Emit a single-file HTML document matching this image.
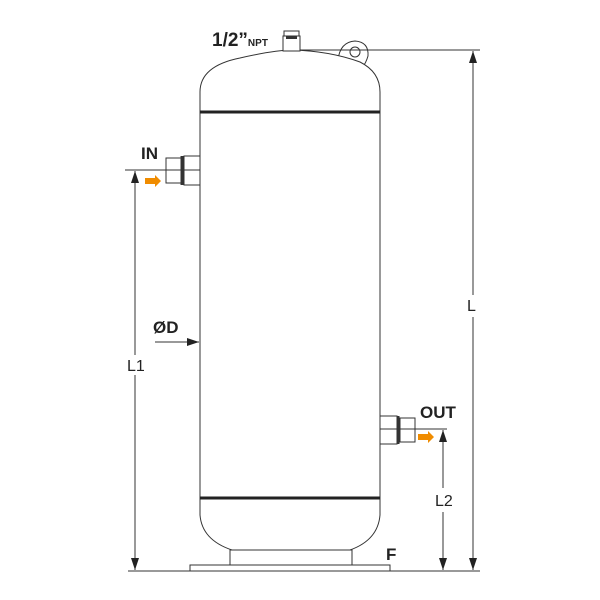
<!DOCTYPE html>
<html><head><style>body{margin:0;background:#fff}svg{display:block}</style></head><body>
<svg width="600" height="600" viewBox="0 0 600 600" xmlns="http://www.w3.org/2000/svg" font-family="Liberation Sans, sans-serif">
<defs><marker id="a" markerWidth="12" markerHeight="8" refX="12" refY="4" orient="auto-start-reverse" markerUnits="userSpaceOnUse"><path d="M0,0 L12,4 L0,8 Z" fill="#222"/></marker></defs>
<g stroke="#333" stroke-width="1" fill="none">
<!-- lug -->
<path d="M338,60 Q340,42 355,41 Q369,42 368,56 Q366,63 362,68" fill="#fff"/>
<circle cx="355" cy="52" r="5"/>
<!-- body -->
<path d="M200,515 L200,92 Q200,66 240,58 Q275,50 292,50 Q330,51 360,62 Q380,72 380,92 L380,515 Q378,540 350,550 L232,550 Q202,540 200,515 Z" fill="#fff"/>
<!-- nozzle -->
<rect x="283" y="36" width="17" height="15" fill="#fff"/>
<rect x="284" y="31" width="15" height="5" fill="#fff"/>
<rect x="286" y="36" width="11" height="3" fill="#333" stroke="none"/>
<!-- bands -->
<line x1="200" y1="112" x2="380" y2="112" stroke="#222" stroke-width="3"/>
<line x1="200" y1="498" x2="380" y2="498" stroke="#222" stroke-width="3"/>
<!-- skirt & base -->
<rect x="230" y="550" width="122" height="16" fill="#fff"/>
<rect x="190" y="565" width="200" height="6" fill="#fff"/>
<line x1="128" y1="571" x2="480" y2="571"/>
<!-- IN fitting -->
<rect x="166" y="158" width="16" height="25" fill="#fff"/>
<rect x="184" y="156" width="16" height="29" fill="#fff"/>
<line x1="182" y1="156" x2="182" y2="185" stroke-width="3"/>
<line x1="125" y1="170" x2="200" y2="170"/>
<!-- OUT fitting -->
<rect x="380" y="416" width="17" height="28" fill="#fff"/>
<rect x="400" y="418" width="15" height="24" fill="#fff"/>
<line x1="398" y1="416" x2="398" y2="444" stroke-width="3"/>
<line x1="380" y1="429" x2="447" y2="429"/>
<line x1="300" y1="50" x2="480" y2="50"/>
<!-- dims -->
<line x1="135" y1="171" x2="135" y2="570" marker-start="url(#a)" marker-end="url(#a)"/>
<line x1="443" y1="430" x2="443" y2="570" marker-start="url(#a)" marker-end="url(#a)"/>
<line x1="473" y1="51" x2="473" y2="570" marker-start="url(#a)" marker-end="url(#a)"/>
<line x1="155" y1="342" x2="199" y2="342" marker-end="url(#a)"/>
</g>
<rect x="126" y="355" width="20" height="20" fill="#fff"/>
<rect x="434" y="488" width="20" height="24" fill="#fff"/>
<rect x="464" y="295" width="18" height="22" fill="#fff"/>
<!-- orange arrows -->
<path d="M145,178 L155,178 L155,175 L161,181 L155,187 L155,184 L145,184 Z" fill="#f08c00"/>
<path d="M418,434 L428,434 L428,431 L434,437 L428,443 L428,440 L418,440 Z" fill="#f08c00"/>
<g fill="#222" font-weight="bold">
<text x="212" y="46" font-size="19">1/2”<tspan font-size="10">NPT</tspan></text>
<text x="141" y="159" font-size="17">IN</text>
<text x="420" y="418" font-size="17">OUT</text>
<text x="153" y="333" font-size="17">ØD</text>
<text x="386" y="560" font-size="17">F</text>
</g>
<g fill="#222" font-size="16">
<text x="127" y="371">L1</text>
<text x="467" y="311">L</text>
<text x="435" y="506">L2</text>
</g>
</svg>
</body></html>
